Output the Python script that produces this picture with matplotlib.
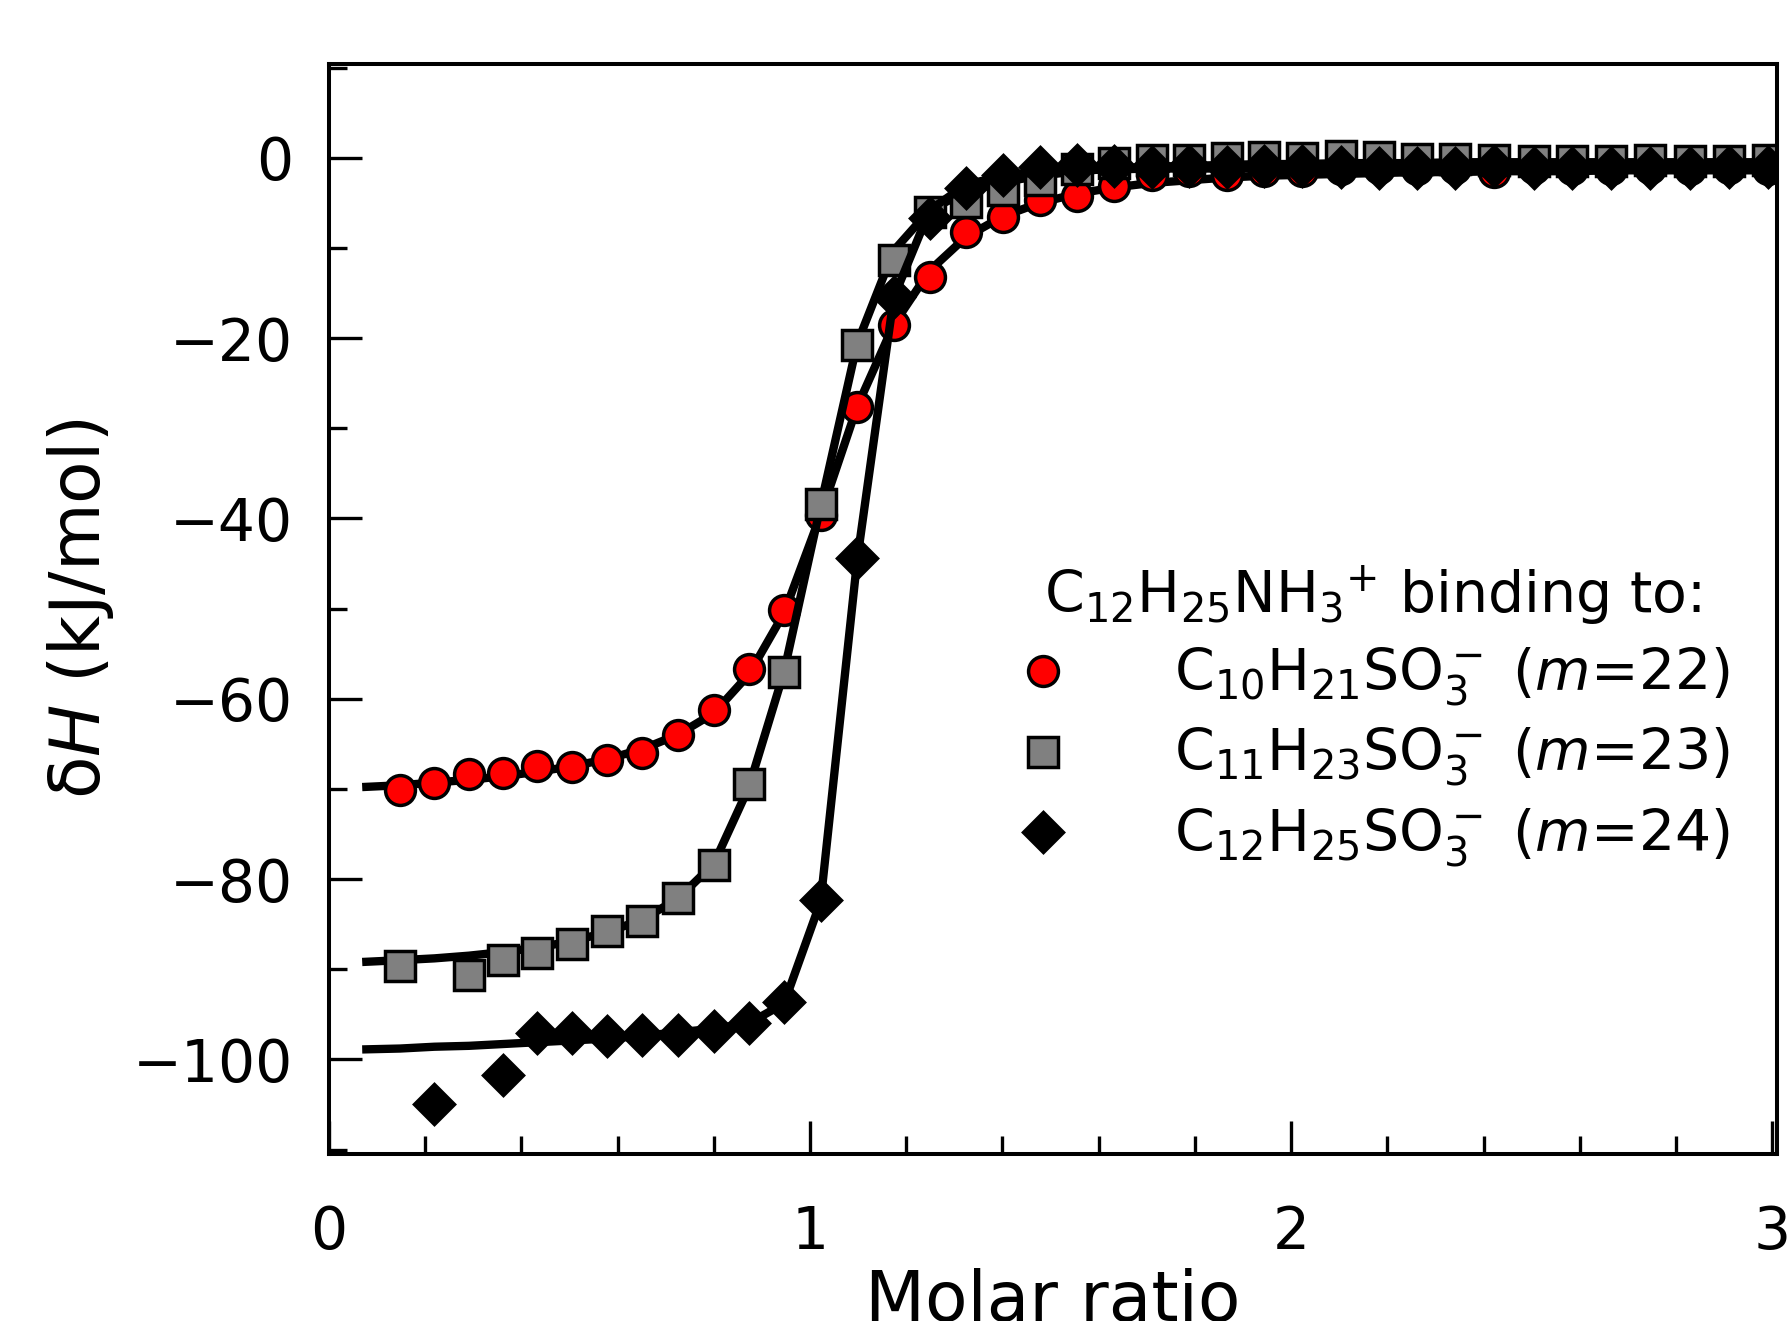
import matplotlib
matplotlib.use("Agg")  # sem display
import matplotlib.pyplot as plt
from matplotlib.ticker import MultipleLocator

# razao molar de cada injecao
x_inj = [0.148, 0.219, 0.291, 0.362, 0.433, 0.505, 0.578, 0.651, 0.725, 0.800,
         0.873, 0.946, 1.022, 1.098, 1.174, 1.249, 1.324, 1.401, 1.478, 1.554,
         1.632, 1.711, 1.788, 1.866, 1.944, 2.022, 2.103, 2.183, 2.261, 2.341,
         2.421, 2.504, 2.584, 2.665, 2.747, 2.830, 2.911, 2.991]

# C10H21SO3- (m=22), todos os pontos
dh_c10 = [-70.1, -69.3, -68.4, -68.2, -67.5, -67.6, -66.8, -66.0, -64.0, -61.2,
          -56.7, -50.2, -39.6, -27.6, -18.5, -13.2, -8.2, -6.6, -4.7, -4.3,
          -3.1, -1.9, -1.5, -1.9, -1.5, -1.5, -1.2, -1.1, -1.2, -1.1,
          -1.6, -1.1, -1.2, -1.2, -1.1, -1.2, -1.1, -1.2]

# C11H23SO3- (m=23), sem o ponto em 0.219
x_c11 = [0.148, 0.291, 0.362, 0.433, 0.505, 0.578, 0.651, 0.725, 0.800, 0.873,
         0.946, 1.022, 1.098, 1.174, 1.249, 1.324, 1.401, 1.478, 1.554, 1.632,
         1.711, 1.788, 1.866, 1.944, 2.022, 2.103, 2.183, 2.261, 2.341, 2.421,
         2.504, 2.584, 2.665, 2.747, 2.830, 2.911, 2.991]
dh_c11 = [-89.6, -90.7, -89.0, -88.2, -87.2, -85.8, -84.7, -82.1, -78.4, -69.5,
          -57.0, -38.4, -20.8, -11.3, -6.0, -4.9, -3.6, -2.5, -1.2, -0.6,
          -0.3, -0.3, 0.0, 0.05, 0.0, 0.2, 0.05, -0.1, -0.1, -0.25,
          -0.4, -0.4, -0.4, -0.25, -0.4, -0.4, -0.2]

# C12H25SO3- (m=24), sem 0.148 e 0.291
x_c12 = [0.219, 0.362, 0.433, 0.505, 0.578, 0.651, 0.725, 0.800, 0.873, 0.946,
         1.022, 1.098, 1.174, 1.249, 1.324, 1.401, 1.478, 1.554, 1.632, 1.711,
         1.788, 1.866, 1.944, 2.022, 2.103, 2.183, 2.261, 2.341, 2.421, 2.504,
         2.584, 2.665, 2.747, 2.830, 2.911, 2.991]
dh_c12 = [-105.0, -101.7, -97.1, -97.1, -97.4, -97.3, -97.3, -96.9, -96.0, -93.6,
          -82.3, -44.4, -15.4, -6.7, -3.4, -1.9, -1.0, -0.8, -0.9, -1.0,
          -0.9, -1.0, -0.9, -0.9, -1.0, -1.1, -1.1, -1.1, -0.9, -1.1,
          -1.1, -1.1, -1.1, -1.1, -1.0, -1.0]

# curvas ajustadas (modelo), avaliadas nas injecoes
x_fit = [0.069] + x_inj
fit_c10 = [-69.8, -69.6, -69.3, -69.0, -68.6, -68.1, -67.5, -66.7, -65.6, -64.0,
           -61.6, -57.3, -50.5, -39.6, -27.6, -18.5, -12.5, -8.8, -6.5, -5.0,
           -4.0, -3.3, -2.8, -2.5, -2.2, -2.0, -1.9, -1.8, -1.7, -1.6,
           -1.6, -1.5, -1.5, -1.5, -1.4, -1.4, -1.4, -1.4, -1.4]
fit_c11 = [-89.2, -89.0, -88.8, -88.5, -88.1, -87.6, -86.9, -85.9, -84.5, -82.2,
           -78.3, -69.8, -57.0, -38.6, -20.6, -10.3, -5.8, -3.8, -2.7, -2.0,
           -1.5, -1.2, -1.0, -0.9, -0.8, -0.7, -0.7, -0.6, -0.6, -0.6,
           -0.5, -0.5, -0.5, -0.5, -0.5, -0.5, -0.5, -0.5, -0.5]
fit_c12 = [-98.9, -98.8, -98.6, -98.5, -98.3, -98.1, -97.9, -97.7, -97.4, -97.0,
           -96.6, -96.0, -93.8, -82.5, -44.6, -15.5, -5.8, -3.0, -2.0, -1.6,
           -1.4, -1.3, -1.2, -1.2, -1.2, -1.2, -1.2, -1.2, -1.2, -1.1,
           -1.1, -1.1, -1.1, -1.1, -1.1, -1.1, -1.1, -1.1, -1.1]

legenda_titulo = r"$\mathregular{C_{12}H_{25}NH_3{}^{+}}$ binding to:"
legendas = [r"$\mathregular{C_{10}H_{21}SO_3^-}$ ($m$=22)",
            r"$\mathregular{C_{11}H_{23}SO_3^-}$ ($m$=23)",
            r"$\mathregular{C_{12}H_{25}SO_3^-}$ ($m$=24)"]

plt.rcParams["font.family"] = "DejaVu Sans"
plt.rcParams["mathtext.fontset"] = "dejavusans"

fig = plt.figure(figsize=(17.87, 13.21), dpi=100)
ax = fig.add_axes([0.1841, 0.1264, 0.8103, 0.8252])

series = [
    (x_inj, dh_c10, fit_c10, "o", "red"),
    (x_c11, dh_c11, fit_c11, "s", "gray"),
    (x_c12, dh_c12, fit_c12, "D", "black"),
]
handles = []
for xs, ys, fit, mk, cor in series:
    ax.plot(x_fit, fit, color="black", lw=6, solid_capstyle="butt")
    (h,) = ax.plot(xs, ys, ls="none", marker=mk, ms=21.5 if mk != "D" else 20.5,
                   mfc=cor, mec="black", mew=2.5)
    handles.append(h)

ax.set_xlim(0, 3.01)
ax.set_ylim(-110.5, 10.4)
ax.xaxis.set_major_locator(MultipleLocator(1))
ax.xaxis.set_minor_locator(MultipleLocator(0.2))
ax.yaxis.set_major_locator(MultipleLocator(20))
ax.yaxis.set_minor_locator(MultipleLocator(10))

ax.tick_params(which="both", direction="in", top=False, right=False,
               width=2.4, labelsize=42)
ax.tick_params(which="major", length=24)
ax.tick_params(which="minor", length=13)
ax.tick_params(axis="x", which="major", pad=36)
ax.tick_params(axis="y", which="major", pad=26)
for sp in ax.spines.values():
    sp.set_linewidth(2.9)

ax.set_xlabel("Molar ratio", fontsize=50, labelpad=5)
ax.set_ylabel(r"δ$H$ (kJ/mol)", fontsize=50, labelpad=12)

ax.legend(handles, legendas, title=legenda_titulo, loc="center left",
          bbox_to_anchor=(0.458, 0.401), frameon=False, fontsize=41,
          title_fontsize=41, handlelength=1.0, handletextpad=1.8,
          labelspacing=0.3, borderaxespad=0, numpoints=1)

plt.savefig("out.png", dpi=100)
